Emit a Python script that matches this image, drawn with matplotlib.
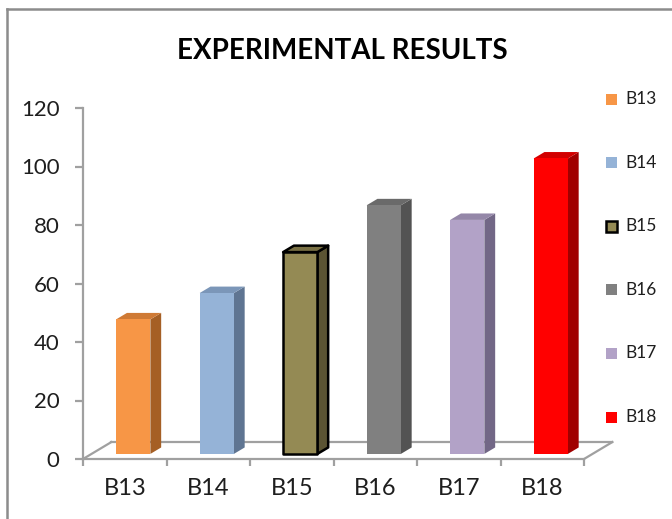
import matplotlib.pyplot as plt
from matplotlib.patches import Polygon, Rectangle
from matplotlib.lines import Line2D

plt.rcParams["font.family"] = ["Lato", "DejaVu Sans"]

# --- Data ---
labels = ["B13", "B14", "B15", "B16", "B17", "B18"]
values = [46, 55, 69, 85, 80, 101]
front_colors = ["#F79646", "#95B3D7", "#948A54", "#808080", "#B2A2C7", "#FF0000"]
top_colors = ["#CF7A35", "#7B96B8", "#7A7145", "#6A6A6A", "#9487A8", "#D20000"]
side_colors = ["#A55F25", "#5F7592", "#5B5433", "#535353", "#726786", "#A00000"]
edge_colors = [None, None, "black", None, None, None]
y_ticks = [0, 20, 40, 60, 80, 100, 120]

# --- Fake 3D geometry (data units) ---
DX, DY = 0.34, 5.8       # floor depth vector
BAR_W = 0.41             # bar front width
F_FRONT = 0.30           # bar front position as fraction of depth
F_DEPTH = 0.38           # bar depth as fraction of depth
AXIS_GRAY = "#A0A0A0"
TEXT = "#1E1E1E"

fig = plt.figure(figsize=(6.72, 5.19), dpi=100)
ax = fig.add_axes([83 / 672, 60 / 519, 501 / 672, 351 / 519])
ax.set_xlim(0, len(labels))
ax.set_ylim(0, 120)

for s in ["top", "right"]:
    ax.spines[s].set_visible(False)
for s in ["left", "bottom"]:
    ax.spines[s].set_color(AXIS_GRAY)
    ax.spines[s].set_linewidth(1.6)

ax.set_yticks(y_ticks)
ax.tick_params(axis="y", length=6, width=1.6, color=AXIS_GRAY, pad=11,
               labelsize=16, labelcolor=TEXT)
ax.set_xticks(range(len(labels) + 1))
ax.set_xticklabels([])
ax.set_xticks([i + 0.5 for i in range(len(labels))], minor=True)
ax.set_xticklabels(labels, minor=True)
ax.tick_params(axis="x", which="major", length=5, width=1.6, color=AXIS_GRAY)
ax.tick_params(axis="x", which="minor", length=0, pad=14, labelsize=17,
               labelcolor=TEXT)

# floor outline
n = len(labels)
floor = [((0, 0), (DX, DY)), ((DX, DY), (n + DX, DY)), ((n, 0), (n + DX, DY))]
for (x0, y0), (x1, y1) in floor:
    ax.add_line(Line2D([x0, x1], [y0, y1], color=AXIS_GRAY, lw=1.6,
                       clip_on=False, zorder=1))

# bars: front, top and side faces
for i, v in enumerate(values):
    x0 = i + 0.5 - BAR_W / 2 + F_FRONT * DX
    x1 = x0 + BAR_W
    yb = F_FRONT * DY
    yt = yb + v
    ddx, ddy = F_DEPTH * DX, F_DEPTH * DY
    ec = edge_colors[i]
    lw = 1.8 if ec else 0
    ax.add_patch(Polygon([(x1, yb), (x1 + ddx, yb + ddy), (x1 + ddx, yt + ddy), (x1, yt)],
                         closed=True, facecolor=side_colors[i], edgecolor=ec or "none",
                         lw=lw, clip_on=False, zorder=3, joinstyle="round"))
    ax.add_patch(Polygon([(x0, yt), (x1, yt), (x1 + ddx, yt + ddy), (x0 + ddx, yt + ddy)],
                         closed=True, facecolor=top_colors[i], edgecolor=ec or "none",
                         lw=lw, clip_on=False, zorder=3, joinstyle="round"))
    ax.add_patch(Rectangle((x0, yb), BAR_W, v, facecolor=front_colors[i],
                           edgecolor=ec or "none", lw=lw, clip_on=False, zorder=4,
                           joinstyle="round"))

# title
fig.text(342 / 672, 1 - 51 / 519, "EXPERIMENTAL RESULTS", ha="center", va="center",
         fontsize=20, fontweight="bold", color="black")

# legend, stacked on the right
for i, name in enumerate(labels):
    yc = 1 - (99 + i * 63.6) / 519
    ec = edge_colors[i]
    fig.patches.append(Rectangle((606 / 672, yc - 5.5 / 519), 11 / 672, 11 / 519,
                                 transform=fig.transFigure, facecolor=front_colors[i],
                                 edgecolor=ec or "none", lw=1.8 if ec else 0))
    fig.text(625 / 672, yc, name, ha="left", va="center", fontsize=12.5, color=TEXT)

# chart area frame (left and top edges)
fig.add_artist(Line2D([7 / 672, 7 / 672], [0, 1 - 9 / 519], color="#8C8C8C", lw=1.8,
                      transform=fig.transFigure))
fig.add_artist(Line2D([7 / 672, 1], [1 - 9 / 519, 1 - 9 / 519], color="#8C8C8C", lw=1.8,
                      transform=fig.transFigure))

fig.savefig("out.png", dpi=100)
